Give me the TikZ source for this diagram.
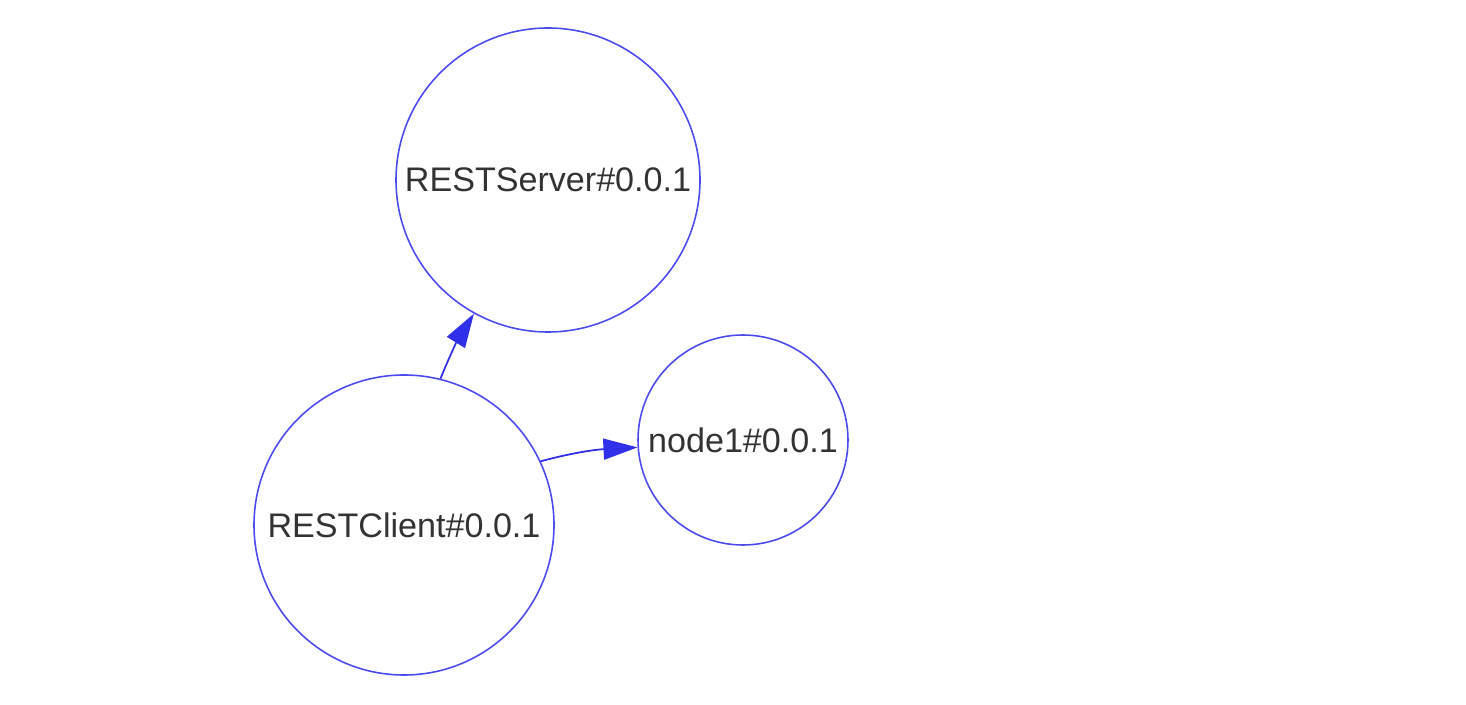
\documentclass[tikz,border=0pt]{standalone}
\usepackage{fontspec}
\setmainfont{Liberation Sans}
\usetikzlibrary{arrows.meta}
\definecolor{ringblue}{HTML}{4B4BF0}
\definecolor{tipblue}{HTML}{3030EA}
\definecolor{labelgray}{HTML}{333333}
\begin{document}
\begin{tikzpicture}[
      service/.style={circle, draw=ringblue, line width=0.9pt, inner sep=0pt,
        text=labelgray, font=\fontsize{19.4}{23}\selectfont},
      depends/.style={line width=1pt, tipblue,
        -{Triangle[length=0.68cm, width=0.42cm]}}
    ]
    \useasboundingbox (0,0) rectangle (29.32,14.08);
    % Services
    \node[service, minimum size=6.08cm] (server) at (10.96,10.48) {RESTServer\#0.0.1};
    \node[service, minimum size=6.0cm]  (client) at (8.08,3.58) {RESTClient\#0.0.1};
    \node[service, minimum size=4.2cm]  (node1)  at (14.86,5.28) {node1\#0.0.1};

    % Dependencies
    \draw[depends] (client.76) to[out=68, in=238] (server.241);
    \draw[depends] (client.25) to[out=15, in=183] (node1.184);
  \end{tikzpicture}
\end{document}
